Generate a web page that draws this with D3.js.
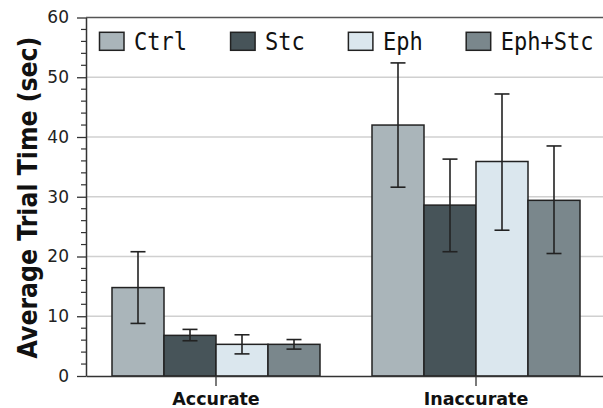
<!DOCTYPE html>
<html><head><meta charset="utf-8">
<script src="https://cdn.jsdelivr.net/npm/d3@7"></script>
<style>body{margin:0;background:#fff}svg{display:block}</style>
</head><body><svg id="c" width="603" height="408"></svg>
<script>
const categories = ["Accurate", "Inaccurate"];
const seriesNames = ["Ctrl", "Stc", "Eph", "Eph+Stc"];
const ctrlMean = [14.8, 42.0];
const ctrlLow = [8.8, 31.6];
const ctrlHigh = [20.8, 52.4];
const stcMean = [6.8, 28.6];
const stcLow = [5.9, 20.8];
const stcHigh = [7.8, 36.3];
const ephMean = [5.3, 35.9];
const ephLow = [3.7, 24.4];
const ephHigh = [6.9, 47.2];
const ephStcMean = [5.3, 29.4];
const ephStcLow = [4.5, 20.5];
const ephStcHigh = [6.1, 38.5];
const yTicks = [0, 10, 20, 30, 40, 50, 60];
const colors = ["#aab5ba", "#475459", "#dbe7ee", "#7a878c"];

const series = [
  {name: seriesNames[0], mean: ctrlMean, lo: ctrlLow, hi: ctrlHigh},
  {name: seriesNames[1], mean: stcMean, lo: stcLow, hi: stcHigh},
  {name: seriesNames[2], mean: ephMean, lo: ephLow, hi: ephHigh},
  {name: seriesNames[3], mean: ephStcMean, lo: ephStcLow, hi: ephStcHigh}
];

const svg = d3.select("#c");
const L = 86, T = 17.5, B = 376, R = 606;
const x = d3.scaleBand().domain(categories).range([L, R]).paddingInner(0).paddingOuter(0);
const inner = d3.scaleBand().domain(seriesNames).range([0, x.bandwidth() * 0.8]);
const groupOff = x.bandwidth() * 0.1;
const y = d3.scaleLinear().domain([0, 60]).range([B, T]);

// gridlines
svg.append("g").selectAll("line").data(yTicks.filter(d => d > 0 && d < 60)).join("line")
  .attr("x1", L).attr("x2", 603).attr("y1", d => y(d)).attr("y2", d => y(d))
  .attr("stroke", "#d0d0d0").attr("stroke-width", 1.5);

// top border
svg.append("line").attr("x1", L).attr("x2", 603).attr("y1", T).attr("y2", T)
  .attr("stroke", "#555").attr("stroke-width", 1.5);

// bars
series.forEach((s, si) => {
  const g = svg.append("g");
  g.selectAll("rect").data(categories).join("rect")
    .attr("x", (c) => x(c) + groupOff + inner(s.name))
    .attr("width", inner.bandwidth())
    .attr("y", (c, i) => y(s.mean[i]))
    .attr("height", (c, i) => B - y(s.mean[i]))
    .attr("fill", colors[si]).attr("stroke", "#222").attr("stroke-width", 1.5);
});
// error bars
series.forEach((s, si) => {
  const g = svg.append("g").attr("stroke", "#222").attr("stroke-width", 1.6);
  categories.forEach((c, i) => {
    const cx = x(c) + groupOff + inner(s.name) + inner.bandwidth() / 2;
    g.append("line").attr("x1", cx).attr("x2", cx).attr("y1", y(s.lo[i])).attr("y2", y(s.hi[i]));
    g.append("line").attr("x1", cx - 7.5).attr("x2", cx + 7.5).attr("y1", y(s.lo[i])).attr("y2", y(s.lo[i]));
    g.append("line").attr("x1", cx - 7.5).attr("x2", cx + 7.5).attr("y1", y(s.hi[i])).attr("y2", y(s.hi[i]));
  });
});

// y axis
const minor = d3.range(0, 61, 2).filter(d => d % 10 !== 0);
const ya = svg.append("g").attr("transform", `translate(${L},0)`)
  .call(d3.axisLeft(y).tickValues(yTicks).tickSize(9).tickPadding(8).tickSizeOuter(0));
ya.select(".domain").attr("stroke", "#333").attr("stroke-width", 1.5);
ya.selectAll(".tick line").attr("stroke", "#333").attr("stroke-width", 1.3);
ya.selectAll("text").attr("font-family", "DejaVu Sans").attr("font-size", 17).attr("fill", "#222");
svg.append("g").selectAll("line").data(minor).join("line")
  .attr("x1", L - 5).attr("x2", L).attr("y1", d => y(d)).attr("y2", d => y(d))
  .attr("stroke", "#333").attr("stroke-width", 1.2);

// x axis
const xa = svg.append("g").attr("transform", `translate(0,${B})`)
  .call(d3.axisBottom(x).tickSize(10).tickPadding(5).tickSizeOuter(0));
xa.select(".domain").attr("stroke", "#333").attr("stroke-width", 1.5);
xa.selectAll(".tick line").attr("stroke", "#333").attr("stroke-width", 1.3);
xa.selectAll("text").attr("font-family", "DejaVu Sans").attr("font-weight", "bold")
  .attr("font-size", 17.5).attr("fill", "#111").attr("dy", "0.72em").attr("y", 16);

// y title
svg.append("text").attr("transform", "translate(36.5,197.5) rotate(-90) scale(0.875,1)")
  .attr("text-anchor", "middle").attr("font-family", "DejaVu Sans").attr("font-weight", "bold")
  .attr("font-size", 27).attr("fill", "#111").text("Average Trial Time (sec)");

// legend
let lx = 99.5;
const lg = svg.append("g");
series.forEach((s, si) => {
  lg.append("rect").attr("x", lx).attr("y", 32.3).attr("width", 24.5).attr("height", 18)
    .attr("fill", colors[si]).attr("stroke", "#222").attr("stroke-width", 1.5);
  const t = lg.append("text").attr("transform", `translate(${lx + 34.5},50) scale(0.9,1)`)
    .attr("font-family", "DejaVu Sans Mono").attr("font-size", 24.5).attr("fill", "#111").text(s.name);
  lx += 34.5 + t.node().getComputedTextLength() * 0.9 + 43.5;
});
</script></body></html>
